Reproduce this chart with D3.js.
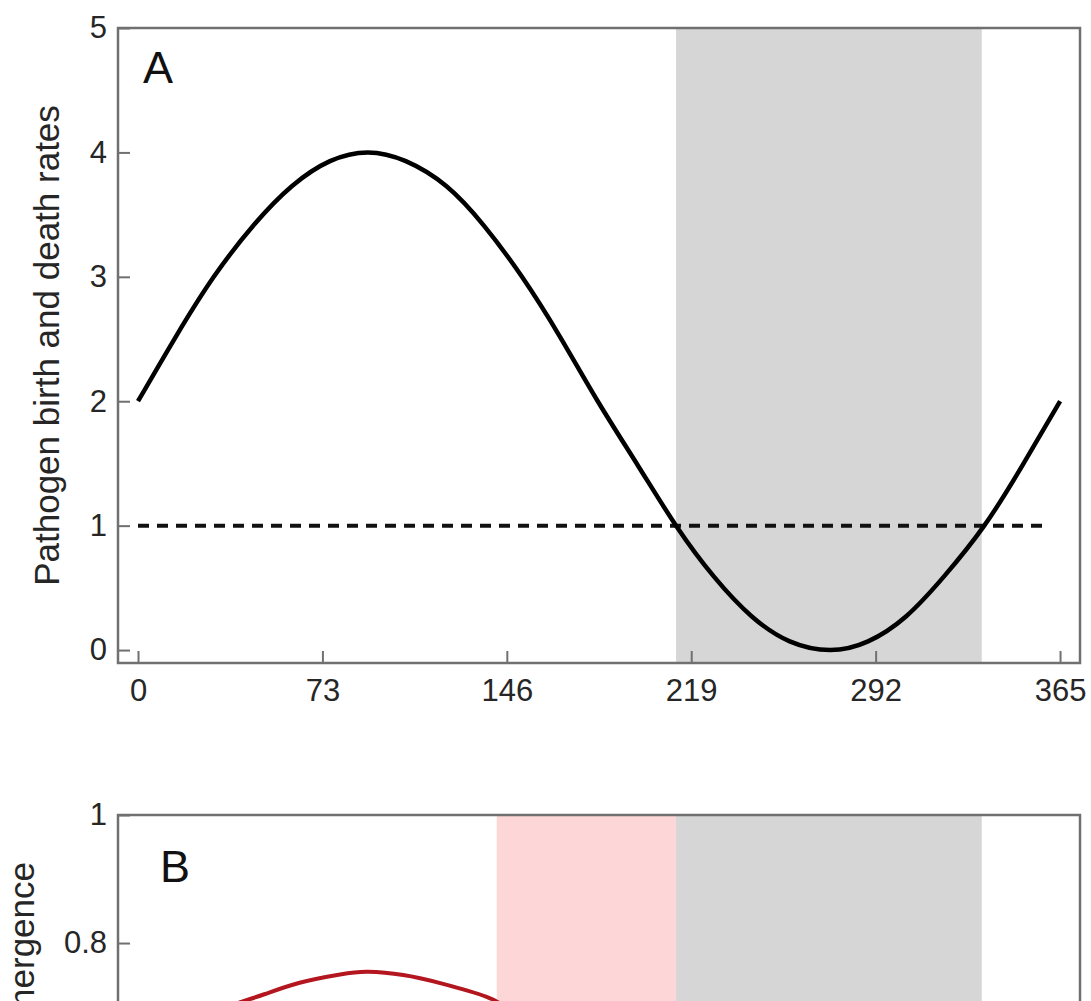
<!DOCTYPE html>
<html>
<head>
<meta charset="utf-8">
<script src="https://cdn.jsdelivr.net/npm/d3@7"></script>
<style>
  body { margin: 0; background: #fff; }
  text { font-family: "Liberation Sans", Arial, sans-serif; }
</style>
</head>
<body>
<svg id="chart" width="1091" height="1001"></svg>
<script>
// ---- data ----
// panel A: pathogen birth rate over the year (day, rate)
const daysA = [0, 15, 30, 46, 61, 76, 91, 106, 122, 137, 152, 167, 182, 198, 213, 228, 243, 258, 274, 289, 304, 319, 335, 350, 365];
const rateA = [2.00, 2.52, 3.00, 3.42, 3.73, 3.93, 4.00, 3.93, 3.73, 3.41, 3.00, 2.52, 2.00, 1.48, 1.00, 0.59, 0.27, 0.07, 0.00, 0.07, 0.27, 0.59, 1.00, 1.48, 2.00];
// death rate (dashed, constant)
const deathDays = [0, 360];
const deathRate = [1, 1];
// shaded windows (days)
const grayWindow = [213, 334];
const pinkWindow = [142, 213];
// panel B: probability of emergence (only the top of the arc is visible)
const daysB = [20, 30, 40, 50, 64, 80, 91, 105, 120, 138, 145];
const probB = [0.66, 0.69, 0.707, 0.72, 0.738, 0.751, 0.755, 0.75, 0.737, 0.716, 0.70];

const xTicks = [0, 73, 146, 219, 292, 365];
const yTicksA = [0, 1, 2, 3, 4, 5];
const yTicksB = [0.8, 1];   // the rest of panel B is below the crop

const svg = d3.select("#chart");
const left = 118, right = 1080;
const boxColor = "#707070";

const x = d3.scaleLinear().domain([-7.92, 372.9]).range([left, right]);

// panel A
const topA = 28, bottomA = 663;
const yA = d3.scaleLinear().domain([-0.104, 5]).range([bottomA, topA]);

// panel B (runs past the bottom of the picture)
const topB = 815, bottomB = 1468;
const yB = d3.scaleLinear().domain([-0.02, 1]).range([bottomB, topB]);

function addClip(g, top, bottom, id) {
  g.append("clipPath").attr("id", id)
    .append("rect").attr("x", left).attr("y", top)
    .attr("width", right - left).attr("height", bottom - top);
}

function styleAxis(sel) {
  sel.select(".domain").remove();
  sel.selectAll(".tick line").attr("stroke", boxColor).attr("stroke-width", 2);
  sel.selectAll(".tick text").attr("fill", "#262626").style("font-size", "31px");
}

// ---------- panel A ----------
const gA = svg.append("g");
addClip(gA, topA, bottomA, "clipA");
const plotA = gA.append("g").attr("clip-path", "url(#clipA)");

plotA.append("rect")
  .attr("x", x(grayWindow[0])).attr("y", topA)
  .attr("width", x(grayWindow[1]) - x(grayWindow[0]))
  .attr("height", bottomA - topA)
  .attr("fill", "#d6d6d6");

const lineA = d3.line().x(d => x(d[0])).y(d => yA(d[1])).curve(d3.curveNatural);

plotA.append("path")
  .datum(deathDays.map((d, i) => [d, deathRate[i]]))
  .attr("d", lineA)
  .attr("fill", "none")
  .attr("stroke", "#111")
  .attr("stroke-width", 4)
  .attr("stroke-dasharray", "11,8");

plotA.append("path")
  .datum(daysA.map((d, i) => [d, rateA[i]]))
  .attr("d", lineA)
  .attr("fill", "none")
  .attr("stroke", "#000")
  .attr("stroke-width", 4.5);

gA.append("g")
  .attr("transform", `translate(0,${bottomA})`)
  .call(d3.axisBottom(x).tickValues(xTicks).tickSize(-12).tickPadding(16).tickFormat(d3.format("d")))
  .call(styleAxis);

gA.append("g")
  .attr("transform", `translate(${left},0)`)
  .call(d3.axisLeft(yA).tickValues(yTicksA).tickSize(-12).tickPadding(11).tickFormat(d3.format("d")))
  .call(styleAxis);

gA.append("rect")
  .attr("x", left).attr("y", topA)
  .attr("width", right - left).attr("height", bottomA - topA)
  .attr("fill", "none").attr("stroke", boxColor).attr("stroke-width", 2.5);

gA.append("text")
  .attr("x", 143).attr("y", 83)
  .style("font-size", "45px").attr("fill", "#111")
  .text("A");

gA.append("text")
  .attr("transform", `translate(59,${(topA + bottomA) / 2}) rotate(-90)`)
  .attr("text-anchor", "middle")
  .style("font-size", "35px").attr("fill", "#262626")
  .text("Pathogen birth and death rates");

// ---------- panel B ----------
const gB = svg.append("g");
addClip(gB, topB, bottomB, "clipB");
const plotB = gB.append("g").attr("clip-path", "url(#clipB)");

plotB.append("rect")
  .attr("x", x(pinkWindow[0])).attr("y", topB)
  .attr("width", x(pinkWindow[1]) - x(pinkWindow[0]))
  .attr("height", bottomB - topB)
  .attr("fill", "#fdd6d7");

plotB.append("rect")
  .attr("x", x(grayWindow[0])).attr("y", topB)
  .attr("width", x(grayWindow[1]) - x(grayWindow[0]))
  .attr("height", bottomB - topB)
  .attr("fill", "#d6d6d6");

const lineB = d3.line().x(d => x(d[0])).y(d => yB(d[1])).curve(d3.curveNatural);

plotB.append("path")
  .datum(daysB.map((d, i) => [d, probB[i]]))
  .attr("d", lineB)
  .attr("fill", "none")
  .attr("stroke", "#b3161f")
  .attr("stroke-width", 4);

gB.append("g")
  .attr("transform", `translate(${left},0)`)
  .call(d3.axisLeft(yB).tickValues(yTicksB).tickSize(-12).tickPadding(11)
    .tickFormat(d => (d === 0 || d === 1) ? String(d) : d3.format(".1f")(d)))
  .call(styleAxis);

gB.append("rect")
  .attr("x", left).attr("y", topB)
  .attr("width", right - left).attr("height", bottomB - topB)
  .attr("fill", "none").attr("stroke", boxColor).attr("stroke-width", 2.5);

gB.append("text")
  .attr("x", 160).attr("y", 882)
  .style("font-size", "45px").attr("fill", "#111")
  .text("B");

gB.append("text")
  .attr("transform", `translate(34,862) rotate(-90)`)
  .attr("text-anchor", "end")
  .style("font-size", "35px").attr("fill", "#262626")
  .text("Probability of emergence");
</script>
</body>
</html>
